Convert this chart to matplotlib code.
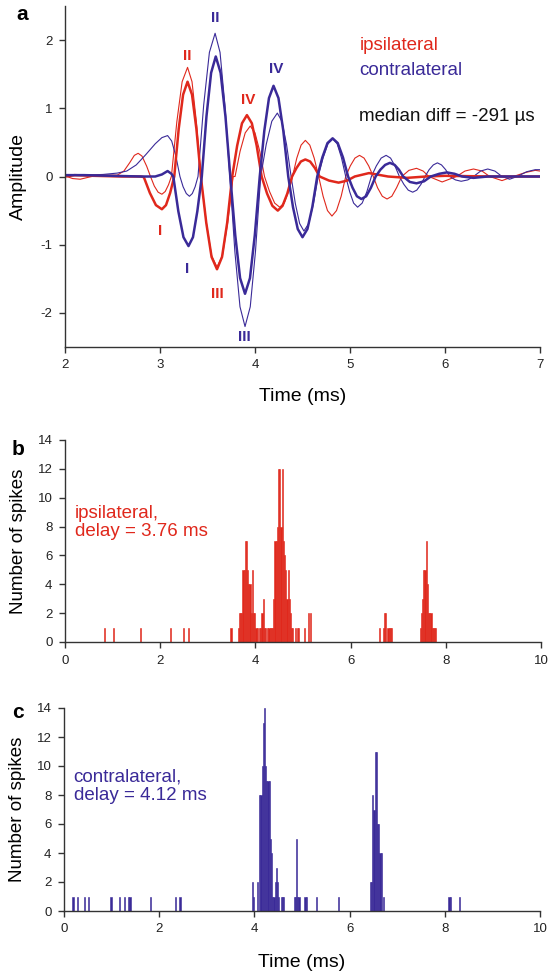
import numpy as np
import matplotlib
matplotlib.use('Agg')
import matplotlib.pyplot as plt

plt.rcParams['font.family'] = ['Liberation Sans', 'DejaVu Sans']
plt.rcParams['axes.unicode_minus'] = False

RED = '#e0281c'
BLUE = '#3a2a98'

# ---- panel a: averaged click responses (time ms, amplitude) ----
ipsi_thick_t = [2.00, 2.10, 2.30, 2.60, 2.80, 2.83, 2.893, 2.957, 3.02, 3.063, 3.107, 3.15,
                3.197, 3.243, 3.29, 3.337, 3.383, 3.43, 3.487, 3.543, 3.60, 3.653, 3.707, 3.76,
                3.812, 3.863, 3.915, 3.967, 4.018, 4.07, 4.127, 4.183, 4.24, 4.29, 4.34, 4.39,
                4.437, 4.483, 4.53, 4.58, 4.63, 4.68, 4.78, 4.88, 4.97, 5.05, 5.20, 5.40,
                5.60, 5.80, 6.00, 6.50, 7.00]
ipsi_thick_a = [0.00, 0.02, 0.01, 0.00, 0.00, -0.01, -0.24, -0.42, -0.48, -0.42, -0.24, 0.00,
                0.70, 1.20, 1.39, 1.20, 0.70, 0.00, -0.68, -1.18, -1.36, -1.18, -0.68, 0.00,
                0.45, 0.78, 0.90, 0.78, 0.45, 0.00, -0.25, -0.43, -0.50, -0.43, -0.25, 0.00,
                0.125, 0.22, 0.25, 0.22, 0.125, 0.00, -0.06, -0.09, -0.06, 0.00, 0.05, 0.00,
                -0.02, 0.00, 0.01, 0.00, 0.00]

ipsi_thin_t = [2.00, 2.08, 2.16, 2.25, 2.35, 2.45, 2.55, 2.62, 2.68, 2.73, 2.77, 2.81, 2.86, 2.90,
               2.94, 2.98, 3.02, 3.055, 3.09, 3.12, 3.177, 3.233, 3.29, 3.337, 3.383, 3.43,
               3.487, 3.543, 3.60, 3.657, 3.713, 3.77, 3.79, 3.843, 3.897, 3.95, 4.00, 4.05, 4.10,
               4.153, 4.207, 4.26, 4.307, 4.353, 4.395, 4.44, 4.485, 4.53, 4.577, 4.623, 4.67,
               4.717, 4.763, 4.81, 4.858, 4.907, 4.955, 5.003, 5.052, 5.10, 5.148, 5.197, 5.245,
               5.29, 5.34, 5.39, 5.44, 5.49, 5.545, 5.62, 5.70, 5.77, 5.83, 5.97, 6.12,
               6.21, 6.30, 6.39, 6.47, 6.60, 6.72, 6.85, 6.95, 7.00]
ipsi_thin_a = [0.01, -0.03, -0.04, -0.01, 0.02, 0.02, 0.02, 0.08, 0.20, 0.31, 0.34, 0.30, 0.15, 0.00,
               -0.14, -0.23, -0.26, -0.22, -0.12, 0.00, 0.80, 1.39, 1.60, 1.39, 0.80, 0.00,
               -0.67, -1.16, -1.33, -1.16, -0.67, 0.00, 0.00, 0.37, 0.64, 0.74, 0.64, 0.37, 0.00,
               -0.22, -0.39, -0.45, -0.39, -0.22, 0.00, 0.27, 0.46, 0.53, 0.46, 0.27, 0.00,
               -0.29, -0.50, -0.58, -0.50, -0.29, 0.00, 0.155, 0.27, 0.31, 0.27, 0.155, 0.00,
               -0.165, -0.29, -0.33, -0.29, -0.165, 0.00, 0.09, 0.12, 0.08, 0.00, -0.08, 0.00,
               0.08, 0.11, 0.08, 0.00, -0.06, 0.00, 0.06, 0.09, 0.08]

contra_thick_t = [2.00, 2.20, 2.50, 2.80, 2.95, 3.02, 3.08, 3.12, 3.14, 3.193, 3.247, 3.30,
                  3.347, 3.393, 3.44, 3.489, 3.538, 3.587, 3.638, 3.689, 3.74, 3.792, 3.843, 3.895,
                  3.947, 3.998, 4.05, 4.098, 4.147, 4.195, 4.247, 4.298, 4.35, 4.40, 4.45, 4.50,
                  4.552, 4.603, 4.655, 4.709, 4.763, 4.817, 4.871, 4.926, 4.98, 5.027, 5.073, 5.12,
                  5.17, 5.22, 5.27, 5.32, 5.37, 5.42, 5.47, 5.515, 5.56, 5.63, 5.70, 5.78, 5.85,
                  5.94, 6.02, 6.10, 6.18, 6.30, 6.45, 7.00]
contra_thick_a = [0.02, 0.02, 0.01, 0.00, 0.00, 0.03, 0.08, 0.04, 0.00, -0.51, -0.89, -1.02,
                  -0.89, -0.51, 0.00, 0.88, 1.52, 1.76, 1.52, 0.88, 0.00, -0.86, -1.49, -1.72,
                  -1.49, -0.86, 0.00, 0.67, 1.15, 1.33, 1.15, 0.67, 0.00, -0.45, -0.77, -0.89,
                  -0.77, -0.45, 0.00, 0.28, 0.49, 0.56, 0.49, 0.28, 0.00, -0.165, -0.29, -0.33,
                  -0.29, -0.165, 0.00, 0.10, 0.17, 0.20, 0.17, 0.10, 0.00, -0.08, -0.10, -0.07, 0.00,
                  0.04, 0.06, 0.04, 0.00, -0.02, 0.00, 0.00]

contra_thin_t = [2.00, 2.20, 2.40, 2.55, 2.65, 2.75, 2.85, 2.95, 3.02, 3.08, 3.123, 3.167, 3.21,
                 3.243, 3.277, 3.31, 3.34, 3.37, 3.40, 3.46, 3.52, 3.58, 3.632, 3.683, 3.735,
                 3.788, 3.842, 3.895, 3.95, 4.005, 4.06, 4.118, 4.177, 4.235, 4.283, 4.332, 4.38,
                 4.425, 4.47, 4.515, 4.565, 4.615, 4.665, 4.717, 4.768, 4.82, 4.865, 4.91, 4.955,
                 4.997, 5.038, 5.08, 5.128, 5.177, 5.225, 5.277, 5.328, 5.38, 5.427, 5.473, 5.52,
                 5.567, 5.613, 5.66, 5.703, 5.747, 5.79, 5.833, 5.877, 5.92, 5.963, 6.007, 6.05,
                 6.11, 6.17, 6.24, 6.30, 6.375, 6.45, 6.525, 6.60, 6.68, 6.76, 6.86, 6.95, 7.00]
contra_thin_a = [0.01, 0.02, 0.03, 0.05, 0.08, 0.17, 0.32, 0.48, 0.57, 0.60, 0.52, 0.30, 0.00,
                 -0.15, -0.25, -0.29, -0.25, -0.15, 0.00, 1.05, 1.82, 2.10, 1.82, 1.05, 0.00,
                 -1.10, -1.91, -2.20, -1.91, -1.10, 0.00, 0.47, 0.81, 0.93, 0.81, 0.47, 0.00,
                 -0.40, -0.69, -0.80, -0.69, -0.40, 0.00, 0.275, 0.48, 0.55, 0.48, 0.275, 0.00,
                 -0.225, -0.39, -0.45, -0.39, -0.225, 0.00, 0.155, 0.27, 0.31, 0.27, 0.155, 0.00,
                 -0.115, -0.20, -0.23, -0.20, -0.115, 0.00, 0.10, 0.17, 0.20, 0.17, 0.10, 0.00,
                 -0.05, -0.07, -0.05, 0.00, 0.08, 0.11, 0.08, 0.00, -0.04, 0.00, 0.07, 0.10, 0.10]

# wave labels: (text, time, amplitude)
ipsi_marks = [('I', 3.00, -0.80), ('II', 3.29, 1.76), ('III', 3.60, -1.72), ('IV', 3.93, 1.12)]
contra_marks = [('I', 3.29, -1.35), ('II', 3.58, 2.32), ('III', 3.89, -2.36), ('IV', 4.22, 1.58)]

# ---- panels b, c: spike-time histograms (bin left edge ms, count) ----
bin_w = 0.025
ipsi_bins = [0.825, 1.000, 1.575, 2.200, 2.475, 2.575, 3.475,
             3.625, 3.650, 3.675, 3.700, 3.725, 3.750, 3.775, 3.800, 3.825, 3.850, 3.875,
             3.900, 3.925, 3.950, 3.975, 4.000, 4.025, 4.075, 4.100, 4.125, 4.150, 4.175,
             4.200, 4.250, 4.275, 4.300, 4.325, 4.350, 4.375, 4.400, 4.425, 4.450, 4.475,
             4.500, 4.525, 4.550, 4.575, 4.600, 4.625, 4.650, 4.675, 4.700, 4.725, 4.750,
             4.775, 4.825, 4.875, 4.900, 5.025, 5.100, 5.150,
             6.600, 6.675, 6.700, 6.725, 6.775, 6.800, 6.825, 6.850,
             7.450, 7.475, 7.500, 7.525, 7.550, 7.575, 7.600, 7.625, 7.650, 7.675, 7.700,
             7.725, 7.750, 7.775]
ipsi_counts = [1, 1, 1, 1, 1, 1, 1,
               1, 2, 2, 2, 5, 5, 7, 7, 5, 4, 4,
               2, 5, 2, 2, 1, 1, 1, 1, 2, 3, 1,
               1, 1, 1, 1, 1, 1, 3, 7, 7, 8, 12,
               12, 8, 12, 7, 6, 5, 3, 5, 3, 2, 1,
               1, 1, 1, 1, 1, 2, 2,
               1, 1, 2, 2, 1, 1, 1, 1,
               1, 2, 3, 5, 5, 7, 4, 2, 2, 2, 1,
               1, 1, 1]

contra_bins = [0.175, 0.275, 0.425, 0.500, 0.975, 1.150, 1.250, 1.350, 1.375, 1.800, 2.325, 2.425,
               3.950, 3.975, 4.050, 4.100, 4.125, 4.150, 4.175, 4.200, 4.225, 4.250, 4.275,
               4.300, 4.325, 4.350, 4.375, 4.400, 4.425, 4.450, 4.475, 4.500, 4.550, 4.575,
               4.600, 4.825, 4.850, 4.875, 4.900, 4.925, 5.050, 5.075, 5.300, 5.750,
               6.425, 6.450, 6.475, 6.500, 6.525, 6.550, 6.575, 6.600, 6.625, 6.650, 6.700,
               8.075, 8.100, 8.300]
contra_counts = [1, 1, 1, 1, 1, 1, 1, 1, 1, 1, 1, 1,
                 2, 1, 2, 8, 8, 10, 13, 14, 10, 9, 9,
                 9, 5, 4, 1, 1, 2, 3, 2, 1, 1, 1,
                 1, 1, 1, 5, 1, 1, 1, 1, 1, 1,
                 2, 2, 8, 7, 11, 11, 6, 6, 4, 4, 1,
                 1, 1, 1]

W, H = 560, 973
fig = plt.figure(figsize=(W / 100, H / 100), dpi=100)


def px_axes(left, top, right, bottom):
    return fig.add_axes([left / W, 1 - bottom / H, (right - left) / W, (bottom - top) / H])


def style(ax):
    for s in ['top', 'right']:
        ax.spines[s].set_visible(False)
    for s in ['left', 'bottom']:
        ax.spines[s].set_color('#333333')
        ax.spines[s].set_linewidth(1.0)
    ax.tick_params(direction='out', length=4, width=1.0, color='#333333',
                   labelsize=9.5, labelcolor='#222222', pad=5)


# panel a
ax = px_axes(65, 6, 540, 347)
style(ax)
ax.plot(ipsi_thin_t, ipsi_thin_a, color=RED, lw=0.8)
ax.plot(contra_thin_t, contra_thin_a, color=BLUE, lw=0.8)
ax.plot(ipsi_thick_t, ipsi_thick_a, color=RED, lw=1.8, solid_joinstyle='round')
ax.plot(contra_thick_t, contra_thick_a, color=BLUE, lw=1.8, solid_joinstyle='round')
for txt, x, y in ipsi_marks:
    ax.text(x, y, txt, color=RED, fontsize=11, fontweight='bold', ha='center', va='center')
for txt, x, y in contra_marks:
    ax.text(x, y, txt, color=BLUE, fontsize=11, fontweight='bold', ha='center', va='center')
ax.text(5.1, 1.92, 'ipsilateral', color=RED, fontsize=13.5, va='center')
ax.text(5.1, 1.55, 'contralateral', color=BLUE, fontsize=13.5, va='center')
ax.text(5.1, 0.88, 'median diff = -291 µs', color='#111111', fontsize=13.5, va='center')
ax.set_xlim(2, 7)
ax.set_ylim(-2.5, 2.5)
ax.set_xticks([2, 3, 4, 5, 6, 7])
ax.set_yticks([-2, -1, 0, 1, 2])
ax.set_xlabel('Time (ms)', fontsize=14, labelpad=12)
ax.set_ylabel('Amplitude', fontsize=14, labelpad=10)
fig.text(16 / W, 1 - 14 / H, 'a', fontsize=15, fontweight='bold', va='center', ha='left')

# panel b
axb = px_axes(65, 440, 541, 642)
style(axb)
axb.bar(ipsi_bins, ipsi_counts, width=bin_w, align='edge', color=RED,
        edgecolor=RED, linewidth=0.4)
axb.set_xlim(0, 10)
axb.set_ylim(0, 14)
axb.set_xticks(range(0, 11, 2))
axb.set_yticks(range(0, 15, 2))
axb.set_ylabel('Number of spikes', fontsize=13.5, labelpad=8)
axb.text(0.2, 8.3, 'ipsilateral,\ndelay = 3.76 ms', color=RED, fontsize=13.5,
         va='center', ha='left', linespacing=1.1)
fig.text(12 / W, 1 - 449 / H, 'b', fontsize=15, fontweight='bold', va='center', ha='left')

# panel c
axc = px_axes(64, 708, 540, 911)
style(axc)
axc.bar(contra_bins, contra_counts, width=bin_w, align='edge', color=BLUE,
        edgecolor=BLUE, linewidth=0.4)
axc.set_xlim(0, 10)
axc.set_ylim(0, 14)
axc.set_xticks(range(0, 11, 2))
axc.set_yticks(range(0, 15, 2))
axc.set_ylabel('Number of spikes', fontsize=13.5, labelpad=8)
axc.set_xlabel('Time (ms)', fontsize=14, labelpad=13)
axc.text(0.2, 8.6, 'contralateral,\ndelay = 4.12 ms', color=BLUE, fontsize=13.5,
         va='center', ha='left', linespacing=1.1)
fig.text(12 / W, 1 - 713 / H, 'c', fontsize=15, fontweight='bold', va='center', ha='left')

fig.savefig('out.png', dpi=100)
